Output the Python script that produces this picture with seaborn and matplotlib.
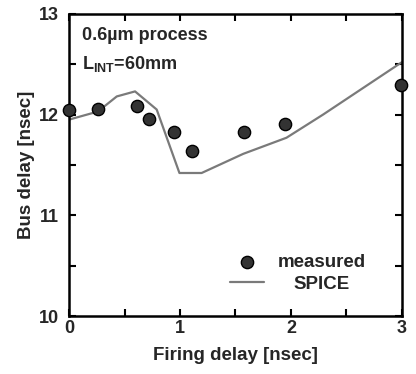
import matplotlib
matplotlib.use("Agg")
import matplotlib.pyplot as plt
import seaborn as sns
from matplotlib.ticker import MultipleLocator

meas_x = [0.0, 0.26, 0.615, 0.72, 0.95, 1.105, 1.58, 1.95, 2.99]
meas_y = [12.05, 12.06, 12.09, 11.96, 11.83, 11.64, 11.83, 11.91, 12.29]

spice_x = [0.0, 0.26, 0.43, 0.595, 0.79, 0.995, 1.195, 1.57, 1.96, 2.29, 3.0]
spice_y = [11.95, 12.03, 12.18, 12.23, 12.05, 11.42, 11.42, 11.61, 11.77, 12.0, 12.52]

x_ticks = [0, 1, 2, 3]
y_ticks = [10, 11, 12, 13]

sns.set_theme(style="ticks")
plt.rcParams['font.family'] = ['Liberation Sans', 'DejaVu Sans']
plt.rcParams['font.weight'] = 'bold'
plt.rcParams['mathtext.fontset'] = 'custom'
plt.rcParams['mathtext.rm'] = 'Liberation Sans:bold'
plt.rcParams['mathtext.bf'] = 'Liberation Sans:bold'

fig = plt.figure(figsize=(4.16, 3.74), dpi=100)
ax = fig.add_axes([0.166, 0.155, 0.8, 0.808])

sns.lineplot(x=spice_x, y=spice_y, ax=ax, color='#7a7a7a', lw=1.6,
             label='SPICE', sort=False)
sns.scatterplot(x=meas_x, y=meas_y, ax=ax, s=78, color='#333333',
                edgecolor='black', linewidth=1.0, label='measured', zorder=5,
                clip_on=False)

ax.set_xlim(0, 3)
ax.set_ylim(10, 13)
ax.set_xticks(x_ticks)
ax.set_yticks(y_ticks)
ax.xaxis.set_minor_locator(MultipleLocator(0.5))
ax.yaxis.set_minor_locator(MultipleLocator(0.5))
ax.tick_params(which='both', direction='in', top=True, right=True,
               labelsize=13, width=1.5, length=5, color='black')
ax.tick_params(axis='x', which='major', pad=3)
ax.tick_params(axis='y', which='major', pad=7)
for t in ax.get_xticklabels() + ax.get_yticklabels():
    t.set_fontweight('bold')
for s in ax.spines.values():
    s.set_linewidth(1.8)
    s.set_visible(True)
    s.set_color('black')

ax.set_xlabel('Firing delay [nsec]', fontsize=13.5, fontweight='bold', labelpad=7)
ax.set_ylabel('Bus delay [nsec]', fontsize=13.5, fontweight='bold', labelpad=3)

ax.text(0.039, 0.914, '0.6\u00b5m process', transform=ax.transAxes,
        fontsize=13, fontweight='bold', va='baseline', ha='left')
ax.text(0.039, 0.818, r'L$_{\mathrm{INT}}$=60mm', transform=ax.transAxes,
        fontsize=13, fontweight='bold', va='baseline', ha='left')

handles, labels = ax.get_legend_handles_labels()
h = dict(zip(labels, handles))
leg1 = ax.legend([h['measured']], ['measured'], loc='center left',
                 bbox_to_anchor=(0.483, 0.179), frameon=False, borderpad=0,
                 borderaxespad=0, prop={'weight': 'bold', 'size': 13.5},
                 handlelength=1.8, handletextpad=0.75)
ax.add_artist(leg1)
ax.legend([h['SPICE']], ['SPICE'], loc='center left',
          bbox_to_anchor=(0.483, 0.106), frameon=False, borderpad=0,
          borderaxespad=0, prop={'weight': 'bold', 'size': 13.5},
          handlelength=1.8, handletextpad=1.6)

fig.savefig('out.png', dpi=100)
